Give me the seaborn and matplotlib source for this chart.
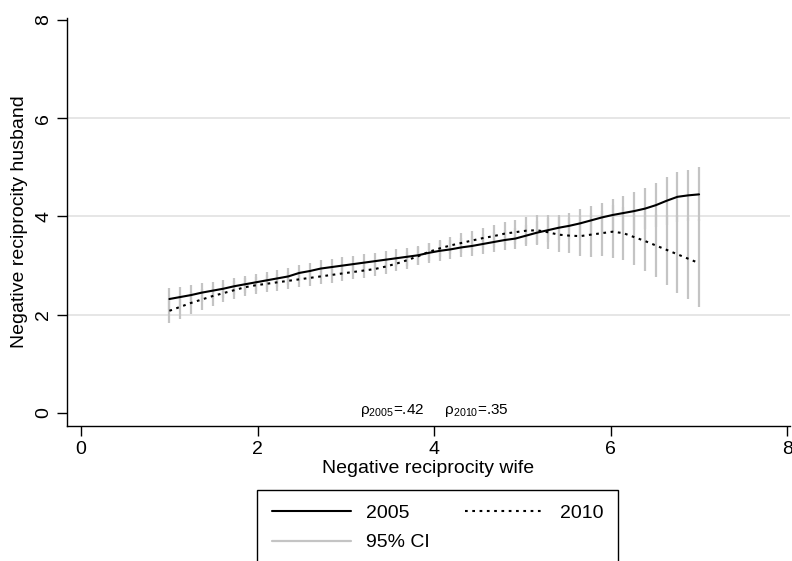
import numpy as np
import pandas as pd
import matplotlib
matplotlib.use("Agg")
import matplotlib.pyplot as plt
import seaborn as sns
from matplotlib.lines import Line2D

# ---------------- data ----------------
x_grid = np.linspace(1, 7, 50)

y2005 = [2.32, 2.36, 2.40, 2.45, 2.49, 2.53, 2.58, 2.62, 2.66, 2.70,
         2.74, 2.78, 2.85, 2.89, 2.94, 2.97, 3.00, 3.03, 3.06, 3.09,
         3.12, 3.15, 3.18, 3.21, 3.26, 3.30, 3.33, 3.37, 3.40, 3.44,
         3.48, 3.52, 3.55, 3.61, 3.67, 3.72, 3.77, 3.81, 3.86, 3.92,
         3.98, 4.03, 4.07, 4.11, 4.16, 4.23, 4.32, 4.40, 4.43, 4.45]

y2010 = [2.08, 2.16, 2.24, 2.31, 2.38, 2.44, 2.50, 2.56, 2.60, 2.63,
         2.66, 2.69, 2.72, 2.75, 2.78, 2.81, 2.84, 2.87, 2.90, 2.93,
         2.98, 3.04, 3.11, 3.19, 3.28, 3.35, 3.41, 3.46, 3.51, 3.56,
         3.60, 3.65, 3.68, 3.71, 3.72, 3.68, 3.63, 3.61, 3.60, 3.63,
         3.66, 3.69, 3.66, 3.58, 3.50, 3.41, 3.32, 3.23, 3.14, 3.05]

hw2005 = [0.22, 0.21, 0.20, 0.19, 0.18, 0.18, 0.17, 0.17, 0.17, 0.17,
          0.17, 0.17, 0.17, 0.17, 0.17, 0.17, 0.17, 0.17, 0.17, 0.17,
          0.17, 0.18, 0.18, 0.19, 0.20, 0.20, 0.20, 0.20, 0.20, 0.20,
          0.21, 0.21, 0.21, 0.22, 0.23, 0.24, 0.25, 0.27, 0.29, 0.30,
          0.30, 0.33, 0.35, 0.38, 0.42, 0.45, 0.49, 0.51, 0.52, 0.55]

hw2010 = [0.25, 0.24, 0.22, 0.21, 0.20, 0.19, 0.18, 0.18, 0.17, 0.17,
          0.17, 0.17, 0.16, 0.16, 0.16, 0.16, 0.15, 0.15, 0.15, 0.15,
          0.15, 0.16, 0.17, 0.18, 0.18, 0.18, 0.18, 0.20, 0.20, 0.20,
          0.23, 0.23, 0.25, 0.28, 0.30, 0.35, 0.35, 0.36, 0.40, 0.45,
          0.46, 0.54, 0.54, 0.57, 0.62, 0.65, 0.71, 0.79, 0.82, 0.89]

series_names = ["2005", "2010"]
ci_label = "95% CI"
rho_text = "ρ$_{\\mathregular{2005}}$=.42     ρ$_{\\mathregular{2010}}$=.35"
x_ticks = [0, 2, 4, 6, 8]
y_ticks = [0, 2, 4, 6, 8]
x_label = "Negative reciprocity wife"
y_label = "Negative reciprocity husband"

# ---------------- styling ----------------
sns.set_style("white")
plt.rcParams["font.family"] = ["Liberation Sans", "DejaVu Sans"]
plt.rcParams["text.color"] = "black"
plt.rcParams["axes.labelcolor"] = "black"
plt.rcParams["xtick.color"] = "black"
plt.rcParams["ytick.color"] = "black"

fig = plt.figure(figsize=(7.92, 5.61), dpi=100)
ax = fig.add_axes([67 / 792, (561 - 426) / 561, (790 - 67) / 792, (426 - 18) / 561])

ci_color = "#c4c4c4"
dot_style = (0, (1.3, 2.2))

# CI spikes
x_arr = np.asarray(x_grid)
for ys, hw in ((y2005, hw2005), (y2010, hw2010)):
    ys = np.asarray(ys)
    hw = np.asarray(hw)
    ax.vlines(x_arr, ys - hw, ys + hw, color=ci_color, lw=1.6, zorder=2)

df = pd.DataFrame({
    "x": np.concatenate([x_arr, x_arr]),
    "y": np.concatenate([y2005, y2010]),
    "year": [series_names[0]] * len(x_arr) + [series_names[1]] * len(x_arr),
})
sns.lineplot(data=df[df.year == series_names[0]], x="x", y="y", color="black",
             lw=1.5, ax=ax, zorder=3, legend=False)
sns.lineplot(data=df[df.year == series_names[1]], x="x", y="y", color="black",
             lw=1.5, linestyle=dot_style, ax=ax, zorder=3, legend=False)

ax.set_xlim(-0.16, 8.03)
ax.set_ylim(-0.265, 8.04)
ax.set_xticks(x_ticks)
ax.set_yticks(y_ticks)
ax.set_xlabel(x_label, fontsize=14, labelpad=2, color="black")
ax.set_ylabel(y_label, fontsize=14, labelpad=5, color="black")

for s in ("top", "right"):
    ax.spines[s].set_visible(False)
for s in ("left", "bottom"):
    ax.spines[s].set_color("black")
    ax.spines[s].set_linewidth(1.0)

ax.tick_params(axis="both", which="major", direction="out", length=7, width=1,
               color="black", labelcolor="black", labelsize=14,
               bottom=True, left=True)
for lab in ax.get_yticklabels():
    lab.set_rotation(90)
    lab.set_va("center")

ax.yaxis.grid(True, color="#e6e6e6", lw=1.4)
ax.xaxis.grid(False)
gl = ax.get_ygridlines()
gl[0].set_visible(False)
gl[-1].set_visible(False)
ax.set_axisbelow(True)

ax.text(4.0, 0.06, rho_text, ha="center", va="center", fontsize=11,
        color="black")

handles = [
    Line2D([], [], color="black", lw=1.5),
    Line2D([], [], color=ci_color, lw=1.6),
    Line2D([], [], color="black", lw=1.5, linestyle=dot_style),
]
labels = [series_names[0], ci_label, series_names[1]]
leg = fig.legend(handles, labels, loc="upper left",
                 bbox_to_anchor=(257 / 792, 1 - 490 / 561),
                 bbox_transform=fig.transFigure, ncol=2, fontsize=14,
                 frameon=True, fancybox=False, edgecolor="black",
                 framealpha=1, borderaxespad=0, borderpad=0.75,
                 handlelength=4.1, handletextpad=0.77, columnspacing=1.8,
                 labelspacing=0.6)
leg.get_frame().set_linewidth(1.0)
for t in leg.get_texts():
    t.set_color("black")

fig.savefig("out.png", dpi=100)
